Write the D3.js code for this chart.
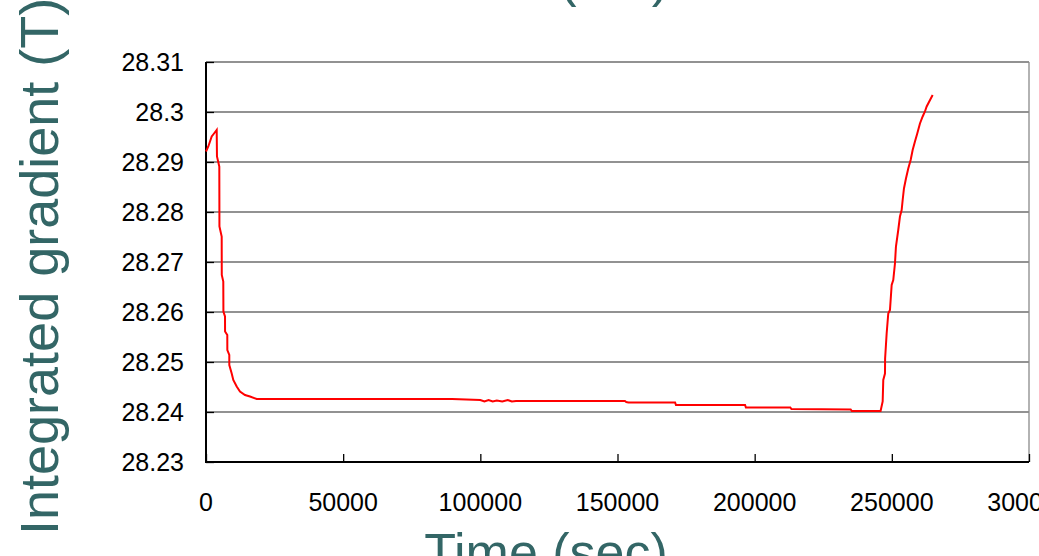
<!DOCTYPE html>
<html>
<head>
<meta charset="utf-8">
<script src="https://cdn.jsdelivr.net/npm/d3@7"></script>
<style>
  html, body { margin: 0; padding: 0; background: #fff; overflow: hidden; }
  svg { display: block; }
</style>
</head>
<body>
<svg id="chart" width="1039" height="556"></svg>
<script>
// Time (s) and integrated gradient (T) samples of the ramp, plateau and recovery
const timeSec = [
  0, 840, 2080, 2920, 3900, 4000, 4850, 4900, 5720, 5750, 6300, 6350, 6930, 6950,
  7760, 7780, 8490, 8500, 9370, 9950, 11190, 12390, 14220, 16040, 18480,
  60000, 89700, 100000, 101500, 103000, 104500, 106000, 108000, 110000, 111500, 113000,
  130000, 152700, 153200, 154000, 171000, 171300, 196500, 196800, 213000, 213400,
  235000, 235400, 245900,
  246660, 246880, 247500, 247550, 248110, 248700, 249320, 249940, 250520, 251140,
  251500, 252340, 252960, 253580, 253950, 254420, 255150, 255990, 256860, 257590,
  258430, 259270, 260250, 261240, 262070, 262700, 263640, 264880
];
const gradientT = [
  28.2921, 28.2931, 28.2951, 28.2957, 28.2964, 28.2911, 28.2891, 28.2771, 28.2751, 28.2674,
  28.2661, 28.2601, 28.2591, 28.2561, 28.2554, 28.2524, 28.2514, 28.2494, 28.2477, 28.2464,
  28.2451, 28.2441, 28.2434, 28.2431, 28.2426,
  28.2426, 28.2426, 28.2424, 28.2421, 28.2424, 28.2421, 28.2423, 28.2421, 28.2424, 28.2421, 28.2422,
  28.2422, 28.2422, 28.2420, 28.2419, 28.2419, 28.2414, 28.2414, 28.2409, 28.2409, 28.2406,
  28.2405, 28.2402, 28.2402,
  28.2421, 28.2464, 28.2477, 28.2507, 28.2557, 28.2597, 28.2604, 28.2654, 28.2664, 28.2697,
  28.2731, 28.2764, 28.2791, 28.2804, 28.2824, 28.2847, 28.2867, 28.2887, 28.2904, 28.2924,
  28.2941, 28.2957, 28.2977, 28.2991, 28.3001, 28.3011, 28.3021, 28.3034
];

const xTicks = [0, 50000, 100000, 150000, 200000, 250000, 300000];
const xTickLabels = ["0", "50000", "100000", "150000", "200000", "250000", "300000"];
const yTicks = [28.23, 28.24, 28.25, 28.26, 28.27, 28.28, 28.29, 28.30, 28.31];
const yTickLabels = ["28.23", "28.24", "28.25", "28.26", "28.27", "28.28", "28.29", "28.3", "28.31"];

const titleText = "Stable hold (DC)";
const xTitle = "Time (sec)";
const yTitle = "Integrated gradient (T)";

const svg = d3.select("#chart");
const plot = { left: 206, right: 1029, top: 62, bottom: 462 };
const teal = "#336666";
const font = "Arial, 'Liberation Sans', sans-serif";

const x = d3.scaleLinear().domain([0, 300000]).range([plot.left, plot.right]);
const y = d3.scaleLinear().domain([28.23, 28.31]).range([plot.bottom, plot.top]);

// Horizontal gridlines
svg.append("g")
  .selectAll("line")
  .data(yTicks.slice(1))
  .join("line")
  .attr("x1", plot.left).attr("x2", plot.right)
  .attr("y1", d => y(d)).attr("y2", d => y(d))
  .attr("stroke", "#6e6e6e").attr("stroke-width", 1.3);

// Right frame edge
svg.append("line")
  .attr("x1", plot.right).attr("x2", plot.right)
  .attr("y1", plot.top).attr("y2", plot.bottom)
  .attr("stroke", "#8a8a8a").attr("stroke-width", 1.3);

// Y axis with inward ticks
const yAxis = d3.axisRight(y)
  .tickValues(yTicks)
  .tickSize(8)
  .tickFormat("");
const yg = svg.append("g").attr("transform", `translate(${plot.left},0)`).call(yAxis);
yg.select(".domain").attr("stroke", "#000").attr("stroke-width", 2).attr("d", `M0,${plot.top}V${plot.bottom}`);
yg.selectAll(".tick line").attr("stroke", "#000").attr("stroke-width", 1.3);

svg.append("g")
  .selectAll("text")
  .data(yTicks)
  .join("text")
  .attr("x", 184)
  .attr("y", d => y(d))
  .attr("dy", "0.35em")
  .attr("text-anchor", "end")
  .attr("font-family", font)
  .attr("font-size", 25)
  .attr("fill", "#000")
  .text((d, i) => yTickLabels[i]);

// X axis with inward ticks
const xAxis = d3.axisTop(x)
  .tickValues(xTicks)
  .tickSize(8)
  .tickFormat("");
const xg = svg.append("g").attr("transform", `translate(0,${plot.bottom})`).call(xAxis);
xg.select(".domain").attr("stroke", "#000").attr("stroke-width", 2).attr("d", `M${plot.left - 1},0H${plot.right}`);
xg.selectAll(".tick line").attr("stroke", "#000").attr("stroke-width", 1.3);

svg.append("g")
  .selectAll("text")
  .data(xTicks)
  .join("text")
  .attr("x", d => x(d))
  .attr("y", 511)
  .attr("text-anchor", "middle")
  .attr("font-family", font)
  .attr("font-size", 25)
  .attr("fill", "#000")
  .text((d, i) => xTickLabels[i]);

// Data trace
const line = d3.line()
  .x((d, i) => x(timeSec[i]))
  .y(d => y(d));
svg.append("path")
  .datum(gradientT)
  .attr("d", line)
  .attr("fill", "none")
  .attr("stroke", "#ff0000")
  .attr("stroke-width", 2)
  .attr("stroke-linejoin", "miter");

// Titles
svg.append("text")
  .attr("x", 669).attr("y", -4)
  .attr("text-anchor", "end")
  .attr("font-family", font)
  .attr("font-size", 52)
  .attr("fill", teal)
  .text(titleText);

svg.append("text")
  .attr("x", 546).attr("y", 570)
  .attr("text-anchor", "middle")
  .attr("font-family", font)
  .attr("font-size", 52)
  .attr("fill", teal)
  .text(xTitle);

svg.append("text")
  .attr("transform", "translate(58,535) rotate(-90)")
  .attr("text-anchor", "start")
  .attr("font-family", font)
  .attr("font-size", 54)
  .attr("fill", teal)
  .text(yTitle);
</script>
</body>
</html>
